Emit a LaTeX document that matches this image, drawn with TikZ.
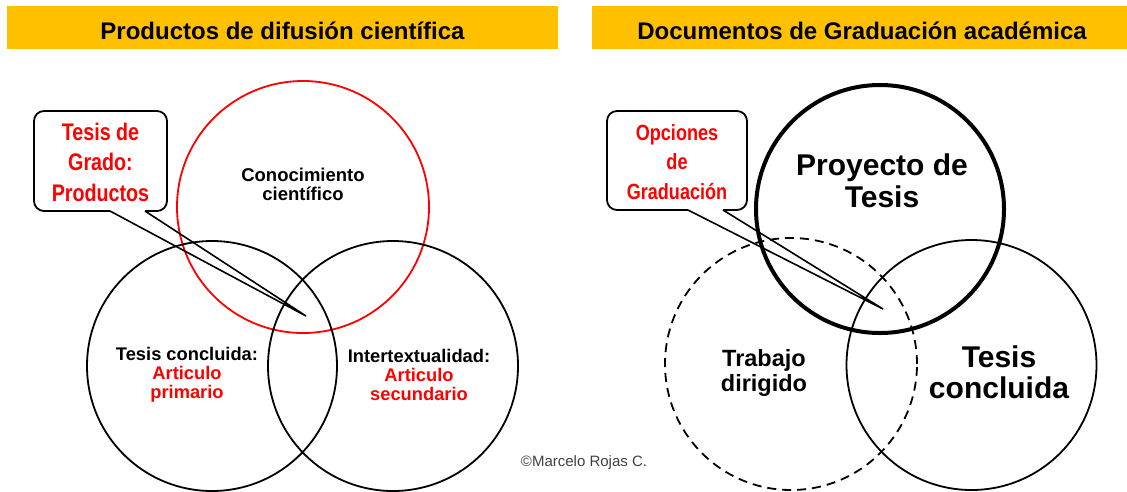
\documentclass[tikz,border=0pt]{standalone}
\usepackage{fontspec}
\setmainfont{Liberation Sans}
\newfontfamily\narrowfont[FakeStretch=0.82]{Liberation Sans}
\definecolor{gold}{HTML}{FFC000}
\definecolor{copygray}{HTML}{404040}
\begin{document}
\begin{tikzpicture}[x=1pt,y=-1pt,
  ring/.style={circle, draw, line width=1.8pt, minimum size=#1, inner sep=0pt},
  bar/.style={fill=gold, draw=none, inner sep=0pt},
  ttl/.style={font=\fontsize{24}{28}\selectfont\bfseries, anchor=base, inner sep=0pt},
  lbl/.style={align=center, inner sep=0pt},
  calltxt/.style={align=center, inner sep=0pt, text=red},
  callbox/.style={line width=1.8pt, rounded corners=10pt},
  tail/.style={line width=1.6pt}]

\useasboundingbox (0,0) rectangle (1127,491);

% title bars
\node[bar, minimum width=551pt, minimum height=43pt] (bar1) at (282.5,27.5) {};
\node[bar, minimum width=535pt, minimum height=43pt] (bar2) at (859.5,27.5) {};
\node[ttl] (t1) at (282.5,39.3) {Productos de difusión científica};
\node[ttl] (t2) at (862,39.3) {Documentos de Graduación académica};

% left Venn
\node[ring=252pt, draw=red] (red) at (303,207) {};
\node[ring=250pt] (cl) at (212,366) {};
\node[ring=250pt] (cr) at (393,366) {};

% right Venn
\node[ring=248pt, line width=4pt] (proy) at (880,209) {};
\node[ring=252pt, dash pattern=on 9pt off 6pt] (trab) at (791,364) {};
\node[ring=250pt] (tesis) at (971.5,365) {};

% callout 1
\coordinate (b1a) at (110,211);
\coordinate (b1b) at (145,211);
\coordinate (tip1) at (306,316);
\draw[callbox] (b1b) -- (167,211) -- (167,111) -- (34,111) -- (34,211) -- (b1a);
\draw[tail] (b1a) -- (tip1) -- (b1b);
\node[calltxt, font=\narrowfont\bfseries\fontsize{24}{30.5}\selectfont] (c1) at (100.5,162) {Tesis de\\Grado:\\Productos};

% callout 2
\coordinate (b2a) at (688,210);
\coordinate (b2b) at (723,210);
\coordinate (tip2) at (883,309);
\draw[callbox] (b2b) -- (747,210) -- (747,111) -- (607,111) -- (607,210) -- (b2a);
\draw[tail] (b2a) -- (tip2) -- (b2b);
\node[calltxt, font=\narrowfont\bfseries\fontsize{22}{29.5}\selectfont] (c2) at (677,162) {Opciones\\de\\Graduación};

% left labels
\node[lbl, font=\bfseries\fontsize{18.5}{19.5}\selectfont] (con) at (303,184.5) {Conocimiento\\científico};
\node[lbl, font=\bfseries\fontsize{18.3}{19}\selectfont] (lt) at (187,375) {Tesis concluida:\\\textcolor{red}{Articulo}\\\textcolor{red}{primario}};
\node[lbl, font=\bfseries\fontsize{18.3}{19}\selectfont] (rt) at (419,375) {Intertextualidad:\\\textcolor{red}{Articulo}\\\textcolor{red}{secundario}};

% right labels
\node[lbl, font=\bfseries\fontsize{30}{32}\selectfont] (pt) at (882,181) {Proyecto de\\Tesis};
\node[lbl, font=\bfseries\fontsize{23.5}{25}\selectfont] (tt) at (764,372.5) {Trabajo\\dirigido};
\node[lbl, font=\bfseries\fontsize{30}{31}\selectfont] (ct) at (999,372.5) {Tesis\\concluida};

% copyright
\node[inner sep=0pt, text=copygray, font=\fontsize{15}{18}\selectfont] (copy) at (584,463) {©Marcelo Rojas C.};
\end{tikzpicture}
\end{document}
